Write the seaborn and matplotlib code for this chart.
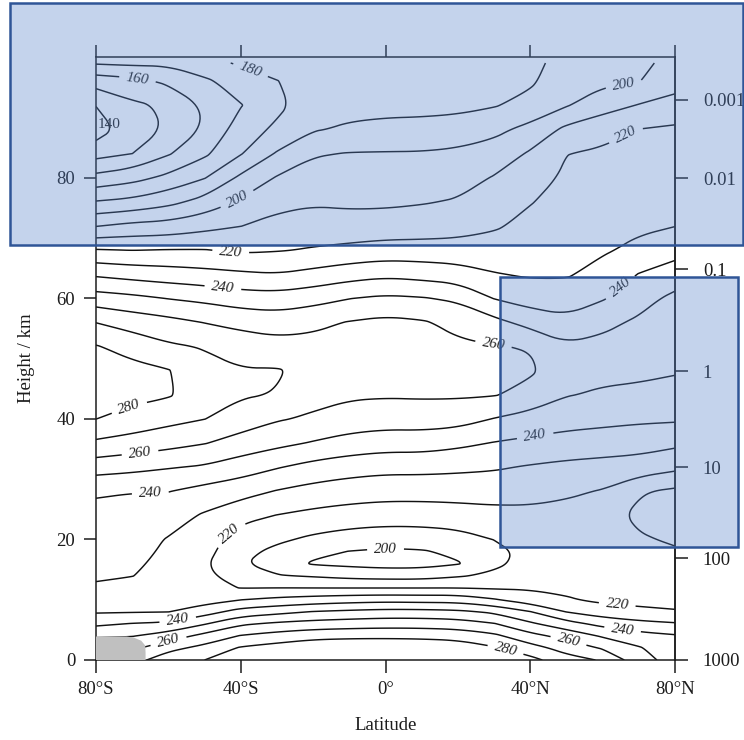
import numpy as np
import pandas as pd
import matplotlib
matplotlib.use("Agg")
import matplotlib.pyplot as plt
from matplotlib.patches import Rectangle
from matplotlib.path import Path
import seaborn as sns

# Zonal-mean temperature (K), one vertical profile per latitude
latitudes = [-80, -70, -60, -50, -40, -30, -20, -10, 0, 10, 20, 30, 40, 50, 60, 70, 80]
heights_km = [0, 2, 4, 6, 8, 10, 12, 14, 16, 18, 20, 24, 28, 32, 36, 40, 44, 48,
              52, 56, 60, 64, 68, 72, 76, 80, 84, 88, 92, 96, 99]

t_80s = [262, 256, 249, 238, 229, 226, 229, 231, 232.2, 233.6, 235, 237.6, 241, 254.6, 268.3, 280.1,
         284.7, 284.9, 280.6, 269.8, 254.4, 238.3, 220.5, 199.5, 180.5, 163, 146.3, 134.6, 140.3, 154.4, 171]
t_70s = [266, 258, 249.5, 240.5, 229.4, 226.7, 227.8, 230.2, 231.4, 232.7, 234, 237, 240.3, 252.9, 265.9, 276.5,
         282.9, 282.9, 276.3, 265.7, 252.4, 236.1, 219.7, 202.6, 182.5, 166.5, 149.9, 145.5, 148.1, 157.2, 172]
t_60s = [276, 267, 254.6, 241.8, 229.8, 228.1, 226.5, 227.1, 227.7, 228.5, 229.4, 234.2, 240.3, 250.7, 263.4, 273,
         281, 280.5, 271.4, 263, 249.6, 234.5, 220.3, 203.6, 187, 172.4, 159, 151, 151.5, 161.9, 171.8]
t_50s = [280, 273, 263, 249.3, 235.7, 226, 224, 222, 221.4, 223.2, 225, 228.9, 236.7, 249, 260.5, 270.2,
         274.8, 273.3, 269.3, 259.7, 247.6, 233, 220.3, 206.9, 193.5, 179.4, 168.1, 161.2, 161.3, 168, 177.4]
t_40s = [286, 281, 270.6, 258.5, 244, 229.8, 219.5, 215.5, 211, 213, 215, 223.1, 233.8, 245, 256.1, 265.3,
         271.1, 270.6, 265.1, 257.4, 244.6, 231.5, 218.3, 209.8, 201.3, 191.9, 179.3, 174.7, 169.5, 175.1, 181]
t_30s = [292, 284, 274, 261.8, 247.1, 232.3, 219.8, 210.5, 205.3, 207.5, 211.8, 219.8, 229.5, 240.7, 252.6, 260.9,
         269.5, 270.8, 263.5, 255.4, 244, 230.3, 219.3, 213.4, 206.7, 200.7, 190.9, 182, 177.4, 179.7, 184.5]
t_20s = [296, 287, 276.7, 263.8, 250.4, 234.2, 219.6, 208.9, 199, 202.3, 208, 217.5, 226.6, 236.8, 249.3, 258.6,
         263.3, 267, 263.1, 257.7, 246.3, 232.8, 220.8, 214.5, 208.9, 204.3, 199.1, 189.2, 185.7, 184.3, 185]
t_10s = [298, 288, 277.5, 265, 252, 235.8, 219.5, 206.9, 197.6, 199.8, 205.4, 215.9, 224.8, 234.3, 246.3, 255.7,
         261.4, 264.3, 263.1, 260.5, 249.7, 235.8, 222.4, 214, 208.2, 204.3, 200.4, 191.4, 186.8, 184.2, 184.8]
t_eq = [299, 288.4, 277.6, 265.9, 253.3, 236.7, 219.5, 206, 196.3, 198.6, 204.2, 214.9, 223.8, 232.9, 244.5, 254.6,
        260.9, 263.6, 264.7, 262.5, 251.7, 237.8, 223.9, 214.5, 208.3, 204.5, 200.6, 192.6, 187.1, 183.8, 183.2]
t_10n = [298, 288, 277.2, 265.8, 253.1, 236.2, 219.5, 206, 196.6, 199.2, 204.6, 214.9, 223.8, 232.9, 244.5, 254.9,
         261.2, 264.3, 264.2, 261, 250.6, 236.4, 223.9, 215.1, 209.3, 205, 200.7, 192.9, 187.3, 184, 183.2]
t_20n = [296, 286.3, 276.1, 264.7, 252, 236, 219.6, 208.8, 199.3, 202, 206.4, 215.5, 224.2, 232, 242.4, 254,
         261.2, 264, 261.6, 257.3, 248.3, 234.5, 223.6, 216.5, 210.8, 206.2, 201.8, 194.4, 187.5, 183.8, 183.2]
t_30n = [290, 281, 272.2, 260.6, 248.3, 230.9, 218.7, 212, 207.7, 206.9, 210.2, 217.1, 224, 231.1, 239.6, 249.7,
         260.6, 263, 260.4, 252.9, 239.6, 230.5, 224.2, 218.8, 214.7, 210.6, 204.1, 197.6, 189.3, 185, 184.2]
t_40n = [283, 274, 263, 251.7, 240.3, 224.5, 218.9, 215.6, 213.8, 213.4, 213, 217.7, 223.1, 229.2, 237.8, 246.3,
         256.9, 261.3, 259.5, 246.5, 235.6, 228.8, 225.8, 222.7, 219.5, 215.4, 211.2, 202.8, 193.3, 188.4, 186.6]
t_50n = [274, 266, 256.7, 243.8, 229.7, 221, 217.8, 214.6, 212.8, 212.4, 212, 216.6, 221.7, 227.7, 236.1, 244,
         250.5, 254.5, 251.4, 242.8, 234.2, 229.1, 227, 225.1, 223.4, 221.7, 219.8, 212.3, 199.3, 196.7, 194.7]
t_60n = [269, 259, 248.8, 237, 224.5, 218, 217.2, 215, 213.6, 212.7, 211.9, 213.8, 219.4, 226.7, 235.1, 242.8,
         248.8, 252.5, 252.4, 247.7, 239.1, 233, 229, 227, 225, 223.4, 221.2, 217, 205.6, 198, 196]
t_70n = [254, 251, 243.5, 233.3, 221.2, 218.5, 215.4, 213.5, 212.3, 211.8, 211, 208, 211, 226, 233.7, 241.8,
         247.7, 252.2, 254.3, 251.4, 246.6, 240.3, 232, 228.6, 226.8, 225, 222.6, 220.1, 210.5, 199.6, 197]
t_80n = [246, 243, 241, 231, 220.3, 218.8, 216.1, 214, 212.4, 210.9, 208.9, 204, 208.2, 222.4, 232.1, 241.3,
         246.3, 250.9, 254.3, 254.4, 252.2, 244.7, 236.4, 229.8, 227.9, 226, 223.5, 221.7, 212.7, 207, 204]

contour_levels = list(range(140, 290, 10))

# Antarctic orography (lat, km)
topo_lat = [-80, -80, -71.5, -69.5, -67.5, -66.4, -66.3, -66.3]
topo_height = [0, 3.9, 3.9, 3.7, 3.2, 2.4, 1.2, 0]

# Where the isotherm values are written (level, lat, km); the first one sits
# across the small polar loop, unrotated and without breaking the line
loop_label_spot = (140, -75.8, 89.0)
label_spots = [
    (160, -68.5, 96.5), (180, -37.3, 97.8),
    (200, -40.9, 76.3), (200, 66.0, 94.9), (220, 65.7, 87.9),
    (220, -42.8, 67.5), (240, -45.0, 61.4), (240, 65.0, 61.7),
    (260, 29.8, 52.2), (280, -70.4, 41.1), (260, -67.7, 33.7),
    (240, -65.0, 27.9), (240, 41.4, 37.0), (220, -43.4, 21.2),
    (200, 0.0, 18.7), (240, -57.5, 7.0), (260, -60.0, 3.2),
    (220, 64.0, 9.0), (240, 65.5, 5.0), (260, 50.3, 2.5), (280, 33.0, 1.3),
]

lat_ticks = [-80, -40, 0, 40, 80]
lat_tick_labels = ["80°S", "40°S", "0°", "40°N", "80°N"]
height_ticks = [0, 20, 40, 60, 80]
pressure_heights_km = [0, 16.9, 32.0, 47.9, 64.8, 79.9, 92.9]
pressure_labels = ["1000", "100", "10", "1", "0.1", "0.01", "0.001"]

# highlighted panels, figure fractions (x0, y0, width, height)
highlight_boxes = [
    (10 / 744, 1 - 245 / 740, 733 / 744, 242 / 740),
    (500 / 744, 1 - 547 / 740, 238 / 744, 270 / 740),
]

sns.set_theme(style="ticks")
plt.rcParams["font.family"] = ["Liberation Serif", "DejaVu Serif"]
ink = "#1c1c1c"
plt.rcParams.update({
    "axes.edgecolor": ink, "axes.linewidth": 1.1,
    "xtick.color": ink, "ytick.color": ink,
    "text.color": ink, "axes.labelcolor": ink,
})

profiles = [t_80s, t_70s, t_60s, t_50s, t_40s, t_30s, t_20s, t_10s, t_eq,
            t_10n, t_20n, t_30n, t_40n, t_50n, t_60n, t_70n, t_80n]
temps = pd.DataFrame(np.column_stack(profiles), index=heights_km, columns=latitudes)

fig = plt.figure(figsize=(7.44, 7.40), dpi=100)
ax = fig.add_axes([96 / 744, 80 / 740, 579 / 744, 603 / 740])
ax.set_xlim(-80, 80)
ax.set_ylim(0, 100)

cs = ax.contour(temps.columns.values, temps.index.values, temps.values,
                levels=contour_levels, colors="#111111", linewidths=1.05)


def rounded(v, closed, passes=3):
    """Corner-cutting so the isotherms are drawn as smooth curves."""
    for _ in range(passes):
        if closed:
            p, q = v, np.roll(v, -1, axis=0)
        else:
            p, q = v[:-1], v[1:]
        mid = np.empty((2 * len(p), 2))
        mid[0::2] = 0.75 * p + 0.25 * q
        mid[1::2] = 0.25 * p + 0.75 * q
        v = mid if closed else np.vstack([v[:1], mid, v[-1:]])
    return v


smooth_paths = []
for path in cs.get_paths():
    verts, codes = [], []
    for comp in path._iter_connected_components():
        v = comp.vertices
        if len(v) < 3:
            seg = v
        else:
            closed = np.allclose(v[0], v[-1])
            if closed:
                seg = rounded(v[:-1], True)
                seg = np.vstack([seg, seg[:1]])
            else:
                seg = rounded(v, False)
        verts.append(seg)
        codes.append([Path.MOVETO] + [Path.LINETO] * (len(seg) - 1))
    if verts:
        smooth_paths.append(Path(np.vstack(verts), np.concatenate(codes).astype(np.uint8)))
    else:
        smooth_paths.append(path)
cs._paths = smooth_paths


def point_on_isotherm(level, lat, z):
    """Closest point (data coords) on the given isotherm to (lat, z)."""
    i = contour_levels.index(level)
    target = ax.transData.transform((lat, z))
    best = None
    for seg in cs.allsegs[i]:
        if len(seg) < 2:
            continue
        d = ax.transData.transform(seg)
        a, b = d[:-1], d[1:]
        ab = b - a
        t = np.clip(((target - a) * ab).sum(1) / np.maximum((ab ** 2).sum(1), 1e-12), 0, 1)
        p = a + t[:, None] * ab
        dist = ((p - target) ** 2).sum(1)
        k = int(np.argmin(dist))
        if best is None or dist[k] < best[0]:
            best = (dist[k], p[k])
    return tuple(ax.transData.inverted().transform(best[1]))


spots = [point_on_isotherm(lvl, lat, z) for lvl, lat, z in label_spots]
ax.clabel(cs, levels=contour_levels, manual=spots, inline=True,
          inline_spacing=7, fmt="%d", fontsize=11)
loop_spot = point_on_isotherm(*loop_label_spot)
ax.clabel(cs, levels=contour_levels, manual=[loop_spot], inline=False,
          fmt="%d", fontsize=11)
for t in ax.texts:
    t.set_fontstyle("italic")
    t.set_color("#222222")
    if t.get_text() == str(loop_label_spot[0]):
        t.set_rotation(0)
        t.set_fontstyle("normal")

ax.fill(topo_lat, topo_height, color="#c0c0c0", lw=0, zorder=4)

ax.set_xticks(lat_ticks)
ax.set_xticklabels(lat_tick_labels)
ax.set_yticks(height_ticks)
ax.tick_params(axis="both", direction="out", length=9, width=1.1, labelsize=13.5, pad=6)
ax.tick_params(axis="x", top=True, labeltop=False)
ax.tick_params(axis="y", right=False)
ax.set_xlabel("Latitude", fontsize=13.5)
ax.set_ylabel("Height / km", fontsize=13.5)
ax.xaxis.set_label_coords(0.5, -0.095)
ax.yaxis.set_label_coords(-0.105, 0.5)
for side in ["top", "bottom", "left", "right"]:
    ax.spines[side].set_visible(True)

ax2 = ax.twinx()
ax2.set_ylim(0, 100)
ax2.set_yticks(pressure_heights_km)
ax2.set_yticklabels(pressure_labels)
ax2.tick_params(axis="y", direction="out", length=9, width=1.1, labelsize=13.5, pad=11)
for side in ["top", "bottom", "left"]:
    ax2.spines[side].set_visible(False)
ax2.grid(False)

for (x0, y0, w, h) in highlight_boxes:
    fig.add_artist(Rectangle((x0, y0), w, h, transform=fig.transFigure,
                             facecolor=(86 / 255, 129 / 255, 201 / 255), alpha=0.35,
                             edgecolor="none", zorder=10))
    fig.add_artist(Rectangle((x0, y0), w, h, transform=fig.transFigure,
                             fill=False, edgecolor="#2f5597", linewidth=1.8, zorder=11))

fig.savefig("out.png", dpi=100)
